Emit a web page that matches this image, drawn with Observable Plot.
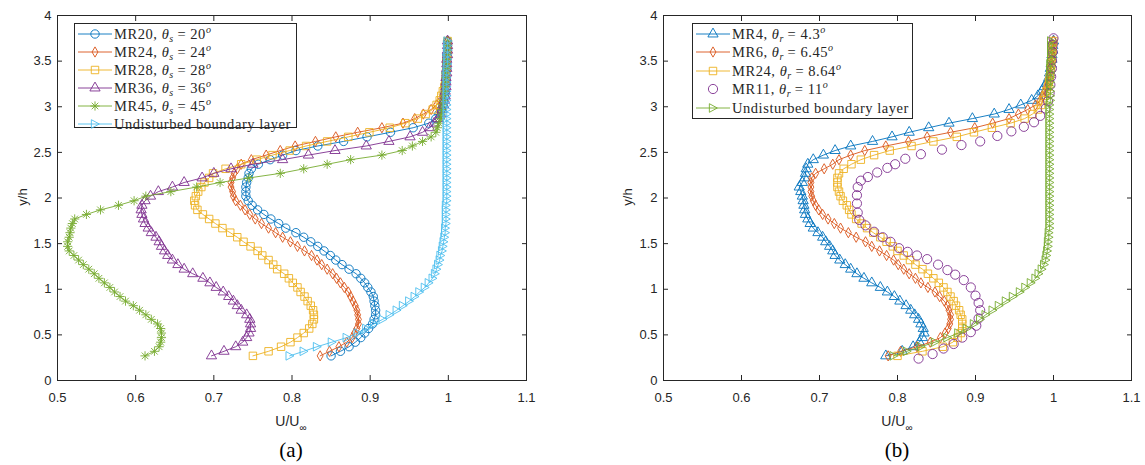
<!DOCTYPE html>
<html><head><meta charset="utf-8">
<script src="https://cdn.jsdelivr.net/npm/d3@7"></script>
<script src="https://cdn.jsdelivr.net/npm/@observablehq/plot@0.6"></script>
<style>
body{margin:0;background:#fff;}
#fig{position:relative;width:1145px;height:465px;background:#fff;font-family:"Liberation Sans",Arial,sans-serif;color:#262626;overflow:hidden;}
.panel{position:absolute;top:0;}
.xlab{position:absolute;font-size:14px;transform:translate(-50%,-50%);white-space:nowrap;}
.xlab sub{font-size:10px;vertical-align:-5px;line-height:0;}
.ylab{position:absolute;font-size:13px;transform:translate(-50%,-50%) rotate(-90deg);white-space:nowrap;}
.cap{position:absolute;font-family:"Liberation Serif",serif;font-size:21px;transform:translate(-50%,-50%);color:#000;}
.legend{position:absolute;background:#fff;border:1px solid #262626;box-sizing:border-box;font-family:"Liberation Serif",serif;font-size:14.5px;letter-spacing:0.55px;color:#262626;}
.row{position:absolute;left:0;height:18px;width:100%;overflow:visible;}
.row svg{position:absolute;left:3px;top:0;}
.row span{position:absolute;left:39px;top:0;height:18px;line-height:18px;white-space:nowrap;}
.row sub{font-size:10px;vertical-align:-3px;line-height:0;letter-spacing:0;}
.row sup{font-size:10px;vertical-align:6px;line-height:0;letter-spacing:0;}
</style></head>
<body><div id="fig"></div>
<script>
// ---- data ----
const yh = [0.27,0.32,0.37,0.42,0.47,0.52,0.57,0.62,0.67,0.72,
 0.77,0.82,0.87,0.92,0.97,1.02,1.07,1.12,1.17,1.22,
 1.27,1.32,1.37,1.42,1.47,1.52,1.57,1.62,1.67,1.72,
 1.77,1.82,1.87,1.92,1.97,2.02,2.07,2.12,2.17,2.22,
 2.27,2.32,2.37,2.42,2.47,2.52,2.57,2.62,2.67,2.72,
 2.77,2.82,2.87,2.92,2.97,3.02,3.07,3.12,3.17,3.22,
 3.27,3.32,3.37,3.42,3.47,3.52,3.57,3.62,3.67,3.72];

// panel (a)
const mr20 = [0.850,0.862,0.873,0.881,0.888,0.893,0.898,0.903,0.905,0.907,
 0.907,0.906,0.905,0.904,0.901,0.897,0.893,0.888,0.882,0.873,
 0.864,0.856,0.849,0.841,0.833,0.824,0.815,0.805,0.792,0.783,
 0.773,0.764,0.756,0.749,0.744,0.741,0.741,0.741,0.742,0.744,
 0.745,0.748,0.757,0.772,0.788,0.805,0.833,0.866,0.896,0.926,
 0.955,0.975,0.984,0.988,0.991,0.993,0.994,0.995,0.996,0.996,
 0.997,0.997,0.997,0.998,0.998,0.998,0.998,0.999,0.999,0.999];
const mr24 = [0.836,0.848,0.860,0.870,0.877,0.880,0.883,0.885,0.885,0.884,
 0.883,0.881,0.878,0.875,0.872,0.867,0.862,0.857,0.852,0.845,
 0.838,0.832,0.825,0.816,0.807,0.798,0.788,0.779,0.770,0.761,
 0.753,0.746,0.740,0.734,0.728,0.725,0.724,0.722,0.722,0.724,
 0.726,0.730,0.735,0.748,0.767,0.785,0.804,0.830,0.856,0.884,
 0.915,0.942,0.957,0.968,0.978,0.985,0.990,0.993,0.995,0.996,
 0.997,0.997,0.998,0.998,0.998,0.998,0.999,0.999,0.999,0.999];
const mr28 = [0.750,0.770,0.786,0.798,0.807,0.815,0.822,0.826,0.828,0.828,
 0.827,0.824,0.820,0.816,0.811,0.807,0.801,0.796,0.790,0.781,
 0.776,0.770,0.762,0.756,0.747,0.738,0.730,0.721,0.711,0.702,
 0.694,0.686,0.679,0.676,0.675,0.677,0.680,0.684,0.688,0.694,
 0.699,0.715,0.735,0.755,0.775,0.797,0.818,0.845,0.872,0.899,
 0.925,0.945,0.961,0.971,0.980,0.985,0.989,0.991,0.993,0.995,
 0.996,0.997,0.997,0.998,0.998,0.998,0.999,0.999,0.999,0.999];
const mr36 = [0.697,0.713,0.728,0.737,0.742,0.745,0.747,0.747,0.746,0.742,
 0.735,0.730,0.725,0.719,0.712,0.703,0.695,0.686,0.673,0.662,
 0.654,0.647,0.641,0.637,0.633,0.630,0.626,0.620,0.616,0.612,
 0.610,0.608,0.607,0.608,0.612,0.619,0.629,0.647,0.662,0.685,
 0.700,0.722,0.750,0.788,0.821,0.855,0.895,0.924,0.951,0.967,
 0.976,0.982,0.987,0.990,0.992,0.994,0.995,0.996,0.996,0.997,
 0.997,0.997,0.998,0.998,0.998,0.998,0.999,0.999,0.999,0.999];
const mr45 = [0.612,0.624,0.630,0.632,0.633,0.633,0.632,0.628,0.620,0.613,
 0.605,0.597,0.587,0.580,0.573,0.567,0.560,0.553,0.547,0.540,
 0.533,0.527,0.521,0.515,0.513,0.513,0.515,0.516,0.517,0.519,
 0.522,0.537,0.555,0.578,0.598,0.613,0.645,0.678,0.708,0.745,
 0.785,0.815,0.845,0.875,0.915,0.941,0.954,0.967,0.978,0.984,
 0.986,0.988,0.990,0.991,0.992,0.993,0.994,0.995,0.996,0.996,
 0.997,0.997,0.997,0.998,0.998,0.998,0.999,0.999,0.999,0.999];
const ublA = [0.797,0.815,0.832,0.851,0.870,0.884,0.895,0.905,0.916,0.925,
 0.934,0.942,0.950,0.957,0.963,0.970,0.975,0.980,0.983,0.985,
 0.987,0.989,0.990,0.992,0.993,0.994,0.995,0.996,0.996,0.997,
 0.997,0.997,0.997,0.997,0.998,0.998,0.998,0.998,0.998,0.998,
 0.998,0.998,0.998,0.998,0.998,0.998,0.998,0.998,0.998,0.998,
 0.998,0.998,0.998,0.998,0.998,0.998,0.998,0.998,0.998,0.998,
 0.998,0.998,0.998,0.998,0.999,0.999,0.999,0.999,0.999,0.999];

// panel (b)
const mr4 = [0.785,0.806,0.820,0.828,0.832,0.834,0.833,0.830,0.827,0.822,
 0.817,0.811,0.803,0.796,0.787,0.778,0.767,0.757,0.748,0.740,
 0.733,0.726,0.720,0.717,0.713,0.708,0.704,0.698,0.692,0.688,
 0.685,0.682,0.681,0.680,0.679,0.678,0.676,0.674,0.678,0.681,
 0.682,0.683,0.685,0.692,0.705,0.720,0.740,0.768,0.793,0.815,
 0.840,0.866,0.896,0.924,0.943,0.958,0.972,0.980,0.985,0.988,
 0.992,0.994,0.995,0.996,0.997,0.998,0.998,0.999,0.999,1.000];
const mr6 = [0.788,0.804,0.825,0.842,0.855,0.861,0.865,0.867,0.868,0.868,
 0.866,0.864,0.860,0.854,0.848,0.839,0.830,0.823,0.815,0.808,
 0.801,0.795,0.786,0.777,0.767,0.759,0.747,0.737,0.727,0.719,
 0.711,0.704,0.699,0.695,0.692,0.690,0.689,0.689,0.689,0.690,
 0.695,0.706,0.717,0.725,0.740,0.758,0.785,0.814,0.838,0.868,
 0.899,0.922,0.943,0.955,0.967,0.977,0.983,0.986,0.989,0.991,
 0.993,0.994,0.995,0.996,0.997,0.998,0.998,0.999,0.999,1.000];
const mr24b = [0.800,0.832,0.858,0.871,0.877,0.881,0.883,0.883,0.883,0.881,
 0.879,0.875,0.872,0.868,0.864,0.859,0.853,0.846,0.839,0.832,
 0.823,0.816,0.808,0.800,0.794,0.786,0.778,0.769,0.761,0.754,
 0.747,0.741,0.738,0.735,0.730,0.727,0.725,0.723,0.723,0.723,
 0.725,0.731,0.741,0.753,0.770,0.790,0.818,0.846,0.876,0.898,
 0.921,0.945,0.963,0.973,0.980,0.984,0.987,0.989,0.991,0.993,
 0.994,0.995,0.996,0.997,0.997,0.998,0.998,0.999,0.999,1.000];
const ublB = [0.795,0.812,0.830,0.848,0.864,0.878,0.889,0.898,0.906,0.913,
 0.922,0.930,0.939,0.948,0.957,0.964,0.971,0.977,0.981,0.985,
 0.988,0.990,0.991,0.992,0.993,0.993,0.994,0.994,0.995,0.995,
 0.995,0.995,0.995,0.995,0.995,0.995,0.995,0.995,0.995,0.995,
 0.995,0.995,0.995,0.995,0.995,0.995,0.995,0.995,0.995,0.995,
 0.995,0.995,0.995,0.995,0.995,0.995,0.996,0.996,0.996,0.996,
 0.996,0.996,0.996,0.996,0.996,0.997,0.997,0.997,0.997,0.997];
const mr11Y = [0.24,0.29,0.35,0.40,0.47,0.53,0.60,0.68,0.77,0.85,0.93,1.02,1.10,1.16,1.21,1.27,1.33,1.37,1.41,1.45,
 1.52,1.57,1.63,1.70,1.76,1.84,1.94,2.03,2.12,2.19,2.23,2.28,2.33,2.37,2.43,2.48,2.53,2.58,2.62,2.68,
 2.73,2.78,2.83,2.90,2.98,3.06,3.15,3.24,3.33,3.42,3.51,3.60,3.68,3.75];
const mr11X = [0.827,0.845,0.859,0.872,0.883,0.894,0.901,0.904,0.906,0.904,0.900,0.894,0.885,0.874,0.864,0.852,0.838,0.825,0.813,0.802,
 0.791,0.781,0.770,0.759,0.751,0.749,0.748,0.748,0.749,0.753,0.762,0.774,0.787,0.797,0.810,0.830,0.857,0.882,0.906,0.928,
 0.946,0.962,0.975,0.983,0.990,0.993,0.995,0.996,0.997,0.998,0.998,0.999,0.999,1.000];

const xTicks = [0.5,0.6,0.7,0.8,0.9,1.0,1.1];
const xTickLabels = ["0.5","0.6","0.7","0.8","0.9","1","1.1"];
const yTicks = [0,0.5,1,1.5,2,2.5,3,3.5,4];
const yTickLabels = ["0","0.5","1","1.5","2","2.5","3","3.5","4"];

const C = {blue:"#0072BD", orange:"#D95319", yellow:"#EDB120", purple:"#7E2F8E", green:"#77AC30", cyan:"#4DBEEE"};

// ---- symbols ----
const symAsterisk = {draw(ctx, size){ const h=Math.sqrt(size/Math.PI), d=h*0.72;
  ctx.moveTo(-h,0);ctx.lineTo(h,0);ctx.moveTo(0,-h);ctx.lineTo(0,h);
  ctx.moveTo(-d,-d);ctx.lineTo(d,d);ctx.moveTo(-d,d);ctx.lineTo(d,-d);}};
const symRight = {draw(ctx, size){ const h=Math.sqrt(size/Math.PI);
  ctx.moveTo(-h*0.85,-h);ctx.lineTo(h,0);ctx.lineTo(-h*0.85,h);ctx.closePath();}};

const seriesA = [
  {name:'MR20, <i>θ</i><sub><i>s</i></sub> = 20<sup><i>o</i></sup>', x:mr20, y:yh, color:C.blue, sym:d3.symbolCircle, r:4.2, line:true},
  {name:'MR24, <i>θ</i><sub><i>s</i></sub> = 24<sup><i>o</i></sup>', x:mr24, y:yh, color:C.orange, sym:d3.symbolDiamond, r:3.1, line:true},
  {name:'MR28, <i>θ</i><sub><i>s</i></sub> = 28<sup><i>o</i></sup>', x:mr28, y:yh, color:C.yellow, sym:d3.symbolSquare, r:4.2, line:true},
  {name:'MR36, <i>θ</i><sub><i>s</i></sub> = 36<sup><i>o</i></sup>', x:mr36, y:yh, color:C.purple, sym:d3.symbolTriangle, r:3.8, line:true},
  {name:'MR45, <i>θ</i><sub><i>s</i></sub> = 45<sup><i>o</i></sup>', x:mr45, y:yh, color:C.green, sym:symAsterisk, r:4.6, line:true},
  {name:'Undisturbed boundary layer', x:ublA, y:yh, color:C.cyan, sym:symRight, r:4.3, line:true}
];
const seriesB = [
  {name:'MR4, <i>θ</i><sub><i>r</i></sub> = 4.3<sup><i>o</i></sup>', x:mr4, y:yh, color:C.blue, sym:d3.symbolTriangle, r:3.8, line:true},
  {name:'MR6, <i>θ</i><sub><i>r</i></sub> = 6.45<sup><i>o</i></sup>', x:mr6, y:yh, color:C.orange, sym:d3.symbolDiamond, r:3.1, line:true},
  {name:'MR24, <i>θ</i><sub><i>r</i></sub> = 8.64<sup><i>o</i></sup>', x:mr24b, y:yh, color:C.yellow, sym:d3.symbolSquare, r:4.2, line:true},
  {name:'MR11, <i>θ</i><sub><i>r</i></sub> = 11<sup><i>o</i></sup>', x:mr11X, y:mr11Y, color:C.purple, sym:d3.symbolCircle, r:4.6, line:false},
  {name:'Undisturbed boundary layer', x:ublB, y:yh, color:C.green, sym:symRight, r:4.3, line:true}
];

const fig = document.getElementById("fig");

function makePanel(series, o) {
  const marks = [];
  for (const s of series) {
    const data = s.x.map((x,i)=>({x, y:s.y[i]}));
    if (s.line) marks.push(Plot.line(data, {x:"x", y:"y", stroke:s.color, strokeWidth:0.9}));
    marks.push(Plot.dot(data, {x:"x", y:"y", symbol:s.sym, r:s.r, stroke:s.color, fill:"none", strokeWidth:0.9}));
  }
  const fx = d => xTickLabels[xTicks.indexOf(d)];
  const fy = d => yTickLabels[yTicks.indexOf(d)];
  const svg = Plot.plot({
    width:o.width, height:410,
    marginTop:15, marginBottom:30, marginLeft:o.ml, marginRight:o.mr,
    style:{color:"#262626", background:"transparent", fontFamily:"'Liberation Sans', Arial, sans-serif", overflow:"visible"},
    x:{domain:[0.5,1.1], label:null},
    y:{domain:[0,4], label:null},
    marks:[
      ...marks,
      Plot.frame({stroke:"#262626", strokeWidth:1}),
      Plot.axisX(xTicks, {anchor:"bottom", tickSize:0, tickPadding:12, tickFormat:fx, fontSize:13, label:null}),
      Plot.axisY(yTicks, {anchor:"left", tickSize:0, tickPadding:6, tickFormat:fy, fontSize:13, label:null}),
      Plot.axisX(xTicks, {anchor:"bottom", tickSize:5, dy:-5, fill:"none", label:null}),
      Plot.axisX(xTicks, {anchor:"top", tickSize:5, dy:5, fill:"none", label:null}),
      Plot.axisY(yTicks, {anchor:"left", tickSize:5, dx:5, fill:"none", label:null}),
      Plot.axisY(yTicks, {anchor:"right", tickSize:5, dx:-5, fill:"none", label:null})
    ]
  });
  svg.classList.add("panel");
  svg.style.left = o.left + "px";
  fig.appendChild(svg);
}

makePanel(seriesA, {width:572, ml:57, mr:46, left:0});
makePanel(seriesB, {width:573, ml:91, mr:14, left:572});

function legend(series, o) {
  const box = document.createElement("div");
  box.className = "legend";
  Object.assign(box.style, {left:o.left+"px", top:o.top+"px", width:o.w+"px", height:o.h+"px"});
  series.forEach((s,i)=>{
    const row = document.createElement("div");
    row.className = "row";
    row.style.top = (o.first + o.step*i - 9) + "px";
    const p = d3.path(); s.sym.draw(p, s.r*s.r*Math.PI);
    row.innerHTML = `<svg width="34" height="18">${s.line?`<line x1="0" x2="34" y1="9" y2="9" stroke="${s.color}" stroke-width="0.9"/>`:""}<path transform="translate(17,9)" d="${p.toString()}" fill="none" stroke="${s.color}" stroke-width="0.9"/></svg><span>${s.name}</span>`;
    box.appendChild(row);
  });
  fig.appendChild(box);
}
legend(seriesA, {left:74, top:23, w:223, h:105, first:10, step:17.9});
legend(seriesB, {left:692, top:23, w:221, h:96, first:10, step:18.4});

function addDiv(cls, html, x, y) {
  const d = document.createElement("div"); d.className = cls; d.innerHTML = html;
  d.style.left = x+"px"; d.style.top = y+"px"; fig.appendChild(d);
}
addDiv("xlab", "U/U<sub>∞</sub>", 291, 421);
addDiv("xlab", "U/U<sub>∞</sub>", 897, 421);
addDiv("ylab", "y/h", 22, 197);
addDiv("ylab", "y/h", 627, 197);
addDiv("cap", "(a)", 291, 450);
addDiv("cap", "(b)", 897, 450);
</script></body></html>
